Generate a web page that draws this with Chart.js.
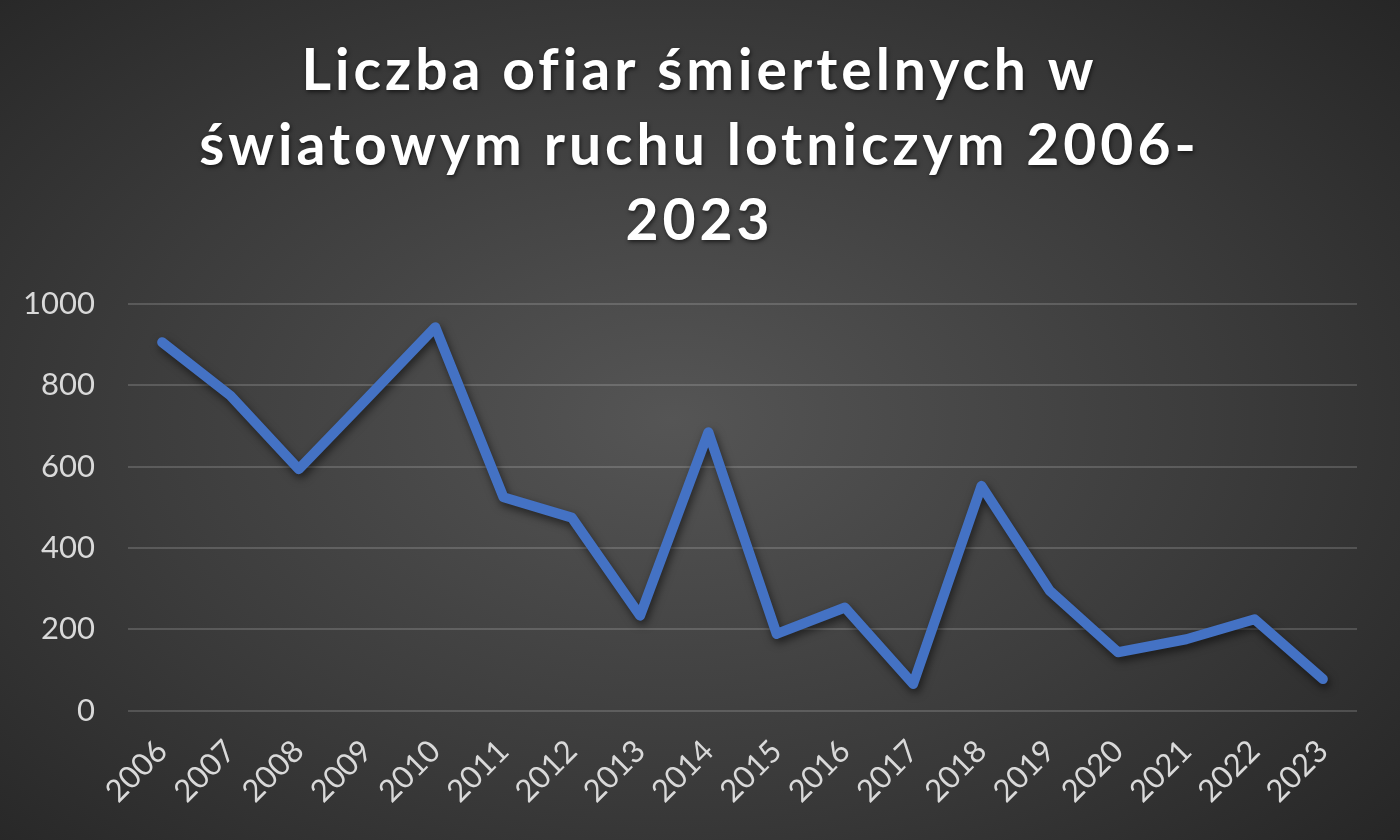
<!DOCTYPE html>
<html>
<head>
<meta charset="utf-8">
<script src="https://cdn.jsdelivr.net/npm/chart.js@4"></script>
<style>
    html, body { margin: 0; padding: 0; }
    body {
        width: 1400px;
        height: 840px;
        background: radial-gradient(ellipse 70% 75% at 48% 50%, #555555 0%, #3c3c3c 55%, #262626 100%);
    }
    #wrap { width: 1400px; height: 840px; position: relative; }
</style>
</head>
<body>
<div id="wrap"><canvas id="deaths"></canvas></div>
<script>
const years = ['2006', '2007', '2008', '2009', '2010', '2011', '2012', '2013', '2014',
    '2015', '2016', '2017', '2018', '2019', '2020', '2021', '2022', '2023'];
const fatalities = [906, 775, 594, 768, 943, 525, 475, 234, 685,
    189, 254, 66, 553, 295, 144, 176, 225, 78];
const titleLines = ['Liczba ofiar śmiertelnych w', 'światowym ruchu lotniczym 2006-', '2023'];

// soft drop shadow under the line, like the original
const lineShadow = {
    id: 'lineShadow',
    beforeDatasetsDraw(chart) {
        const ctx = chart.ctx;
        ctx.save();
        ctx.shadowColor = 'rgba(0,0,0,0.55)';
        ctx.shadowBlur = 8;
        ctx.shadowOffsetX = 2;
        ctx.shadowOffsetY = 4;
    },
    afterDatasetsDraw(chart) {
        chart.ctx.restore();
    }
};

const chart = new Chart(
    document.getElementById('deaths'),
    {
        type: 'line',
        plugins: [lineShadow],
        data: {
            labels: years,
            datasets: [
                {
                    label: 'Ofiary',
                    data: fatalities,
                    borderColor: '#4472C4',
                    borderWidth: 10,
                    borderCapStyle: 'round',
                    borderJoinStyle: 'round',
                    pointRadius: 0,
                    tension: 0
                }
            ]
        },
        options: {
            responsive: true,
            maintainAspectRatio: false,
            animation: false,
            layout: {
                padding: { left: 20, right: 43, top: 0, bottom: 8 }
            },
            plugins: {
                legend: { display: false },
                tooltip: { enabled: false },
                title: {
                    display: true,
                    text: titleLines,
                    color: '#ffffff',
                    font: { family: 'Lato', size: 57, weight: 'bold', lineHeight: 1.316 },
                    padding: { top: 34, bottom: 45 }
                }
            },
            scales: {
                x: {
                    offset: true,
                    grid: { display: false, drawTicks: false },
                    border: { display: false },
                    ticks: {
                        color: '#d9d9d9',
                        font: { family: 'Lato', size: 31 },
                        minRotation: 45,
                        maxRotation: 45,
                        autoSkip: false,
                        padding: 22
                    }
                },
                y: {
                    min: 0,
                    max: 1000,
                    afterFit: scale => { scale.width = 108; },
                    grid: { color: 'rgba(255,255,255,0.16)', lineWidth: 2, drawTicks: false },
                    border: { display: false },
                    ticks: {
                        stepSize: 200,
                        color: '#d9d9d9',
                        font: { family: 'Lato', size: 31 },
                        padding: 33,
                        callback: value => `${value}`
                    }
                }
            }
        }
    }
);

// wider letter spacing + shadow for the title only, nudged to the page centre
const tb = chart.titleBlock;
const drawTitle = tb.draw.bind(tb);
tb.draw = function () {
    const ctx = chart.ctx;
    ctx.save();
    ctx.translate(11, 0);
    ctx.letterSpacing = '4px';
    ctx.shadowColor = 'rgba(0,0,0,0.6)';
    ctx.shadowBlur = 4;
    ctx.shadowOffsetX = 1;
    ctx.shadowOffsetY = 2;
    drawTitle();
    ctx.restore();
};
chart.draw();
</script>
</body>
</html>
